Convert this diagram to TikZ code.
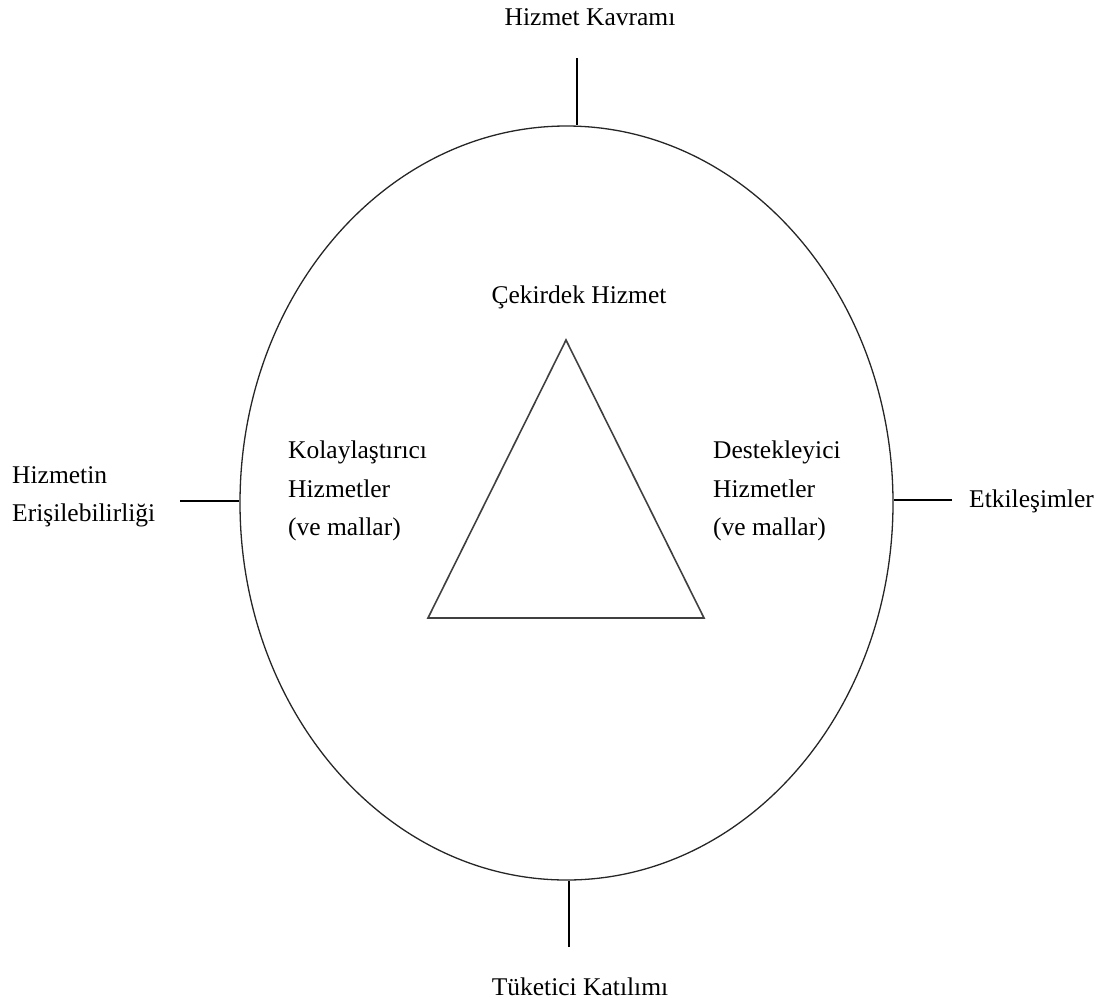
\documentclass[tikz,border=0pt]{standalone}
\usepackage{fontspec}
\setmainfont{Liberation Serif}
\usetikzlibrary{shapes.geometric}
\begin{document}
\begin{tikzpicture}[x=1pt,y=-1pt,
  lbl/.style={inner sep=0pt, font=\fontsize{25.5}{38.5}\selectfont},
  blk/.style={lbl, align=left},
  stub/.style={line width=2.9pt, black},
  ring/.style={draw=black!85, line width=1.3pt},
  tri/.style={draw=black!75, line width=1.6pt, line join=miter}]
  \useasboundingbox (0,0) rectangle (1109,1002);

  % outer ellipse
  \node[ring, ellipse, minimum width=653pt, minimum height=754pt, inner sep=0pt] (E) at (566.5,503) {};

  % core triangle
  \coordinate (A) at (566,340);
  \coordinate (B) at (428,618);
  \coordinate (C) at (704,618);
  \draw[tri] (A) -- (B) -- (C) -- cycle;

  % stub ends
  \coordinate (tN) at (577,58);
  \coordinate (tS) at (569,947);
  \coordinate (tW) at (180,501);
  \coordinate (tE) at (952,500);
  \draw[stub] (tN) -- (tN |- E.north);
  \draw[stub] (tS) -- (tS |- E.south);
  \draw[stub] (tW) -- (E.west |- tW);
  \draw[stub] (tE) -- (E.east |- tE);

  % labels
  \node[lbl, anchor=base] (kav) at (590,25) {Hizmet Kavramı};
  \node[lbl, anchor=base] (tuk) at (580,995) {Tüketici Katılımı};
  \node[lbl, anchor=base] (cek) at (579,303) {Çekirdek Hizmet};
  \node[lbl, anchor=base west] (etk) at (969,507) {Etkileşimler};
  \node[blk, anchor=west] (eri) at (12,497) {Hizmetin\\Erişilebilirliği};
  \node[blk, anchor=west] (kol) at (288,491) {Kolaylaştırıcı\\Hizmetler\\(ve mallar)};
  \node[blk, anchor=west] (des) at (713,491) {Destekleyici\\Hizmetler\\(ve mallar)};
\end{tikzpicture}
\end{document}
